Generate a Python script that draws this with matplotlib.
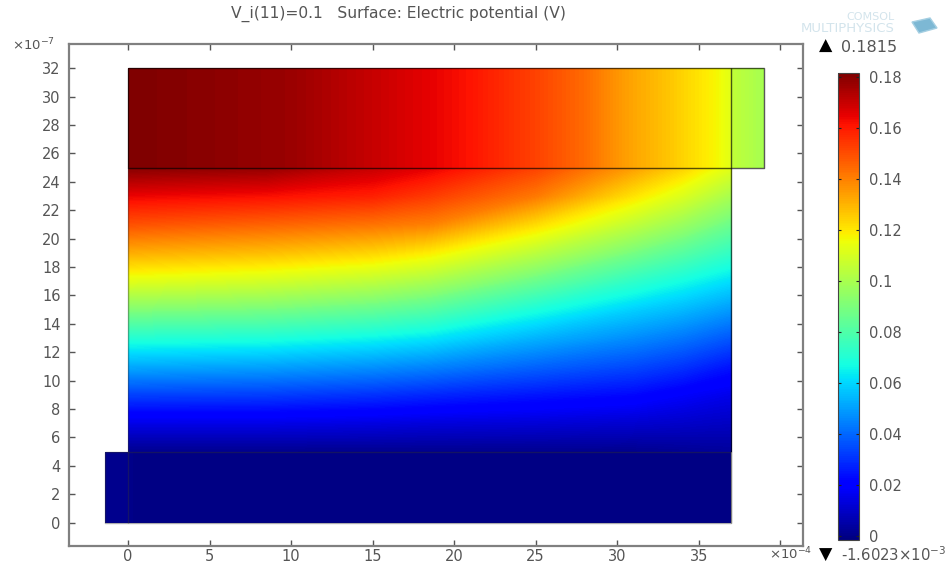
#!/usr/bin/env python3
import numpy as np
import matplotlib
matplotlib.use('Agg')
import matplotlib.pyplot as plt
from matplotlib.cm import ScalarMappable
from matplotlib.colors import Normalize
from matplotlib.patches import Polygon

# Colour range printed next to the colour bar
vMin = -1.6023e-3
vMax = 0.1815

# Top electrode, potential only changes along x
topX = [0, 5, 10, 15, 18.5, 21, 25, 28, 30.5, 33, 36.2, 37]
topY = [25, 32]
topV = [0.1815, 0.1795, 0.177, 0.170, 0.165, 0.161, 0.152, 0.144, 0.134, 0.127, 0.1165, 0.112]

# Small contact on the right of the top electrode
tabX = [37, 39]
tabY = [25, 32]
tabV = [0.105, 0.099]

# Middle layer, one row per y, one column per x
midX = [0, 8.5, 15, 18.5, 25, 31, 34, 37]
midY = [5, 7, 9, 11, 13, 15, 17, 19, 21, 23, 25]
midV = [
    [0.001, 0.001, 0.001, 0.001, 0.001, 0.001, 0.002, 0.003],
    [0.015, 0.015, 0.0140, 0.0131, 0.0124, 0.0113, 0.0103, 0.0092],
    [0.033, 0.0323, 0.0301, 0.0281, 0.0250, 0.0223, 0.0186, 0.0155],
    [0.052, 0.0506, 0.0478, 0.0453, 0.0393, 0.0344, 0.0306, 0.0247],
    [0.0705, 0.0692, 0.0656, 0.0626, 0.0536, 0.0466, 0.0426, 0.0369],
    [0.091, 0.0889, 0.0849, 0.0811, 0.0686, 0.0588, 0.0547, 0.0491],
    [0.112, 0.1086, 0.1041, 0.0997, 0.0861, 0.0730, 0.0672, 0.0613],
    [0.131, 0.1278, 0.1233, 0.1186, 0.1035, 0.0888, 0.0817, 0.0738],
    [0.149, 0.1455, 0.1423, 0.1397, 0.1219, 0.1046, 0.0962, 0.0865],
    [0.164, 0.1618, 0.1586, 0.1534, 0.1412, 0.1204, 0.1107, 0.0992],
    [0.180, 0.178, 0.170, 0.165, 0.152, 0.134, 0.124, 0.112],
]

# Bottom layer, nearly flat
botX = [-1.4, -0.1, 0.3, 37]
botY = [0, 5]
botV = [0.0012, 0.0012, -0.0002, -0.0002]

# Ticks
xTicks = [0, 5, 10, 15, 20, 25, 30, 35, 40]
xLabels = ['0', '5', '10', '15', '20', '25', '30', '35', '']
yTicks = list(range(0, 34, 2))
barTicks = [0, 0.02, 0.04, 0.06, 0.08, 0.1, 0.12, 0.14, 0.16, 0.18]
barLabels = ['0', '0.02', '0.04', '0.06', '0.08', '0.1', '0.12', '0.14', '0.16', '0.18']

# Domain boundaries, the ones round the thin top parts show up darker
hardEdges = [
    ([0, 39, 39, 0, 0], [32, 32, 25, 25, 32]),
    ([37, 37], [5, 32]),
]
softEdges = [
    ([0, 0], [0, 25]),
    ([37, 37], [0, 5]),
    ([-1.4, 37, 37, -1.4, -1.4], [5, 5, 0, 0, 5]),
]

WIDTH, HEIGHT = 947, 568
GREY = '#555555'
FRAME = '#808080'

def pxAxes(left, top, right, bottom):
    return [left/WIDTH, 1-bottom/HEIGHT, (right-left)/WIDTH, (bottom-top)/HEIGHT]

def pxText(x, y, s, **kwargs):
    kwargs.setdefault('color', GREY)
    kwargs.setdefault('fontsize', 10.5)
    kwargs.setdefault('va', 'center')
    fig.text(x/WIDTH, 1-y/HEIGHT, s, **kwargs)

fig = plt.figure(figsize=(WIDTH/100, HEIGHT/100), dpi=100)
ax = fig.add_axes(pxAxes(69, 44, 803, 546))

levels = np.linspace(vMin, vMax, 256)
norm = Normalize(vMin, vMax)

def drawField(x, y, v):
    ax.contourf(x, y, v, levels=levels, cmap='jet', norm=norm, extend='both', antialiased=False)

drawField(midX, midY, np.array(midV))
drawField(topX, topY, np.array([topV, topV]))
drawField(tabX, tabY, np.array([tabV, tabV]))
drawField(botX, botY, np.array([botV, botV]))

for ex, ey in softEdges:
    ax.plot(ex, ey, color='#333333', alpha=0.4, lw=1.0, solid_capstyle='butt')
for ex, ey in hardEdges:
    ax.plot(ex, ey, color='black', alpha=0.65, lw=1.0, solid_capstyle='butt')

ax.set_xlim(-3.62, 41.4)
ax.set_ylim(-1.65, 33.7)
ax.set_xticks(xTicks)
ax.set_xticklabels(xLabels)
ax.set_yticks(yTicks)
ax.tick_params(direction='in', top=True, right=True, length=4.5, width=1, color=GREY,
               labelcolor=GREY, labelsize=10.5)
ax.tick_params(axis='x', pad=2)
ax.tick_params(axis='y', pad=6)
for spine in ax.spines.values():
    spine.set_color(FRAME)
    spine.set_linewidth(1.6)

# Colour bar
cax = fig.add_axes(pxAxes(838, 73, 859, 540))
cb = fig.colorbar(ScalarMappable(norm=norm, cmap='jet'), cax=cax)
cb.set_ticks(barTicks)
cb.set_ticklabels(barLabels)
cax.tick_params(direction='in', left=True, right=True, length=2.5, width=0.8, color='#222222',
                labelcolor=GREY, labelsize=10.5, pad=7)
cb.outline.set_edgecolor('#444444')
cb.outline.set_linewidth(0.8)

# Texts round the axes
pxText(398, 14, 'V_i(11)=0.1   Surface: Electric potential (V)', ha='center', fontsize=11.2)
pxText(12, 45, r'×10$^{-7}$', fontsize=9.5)
pxText(769, 554, r'×10$^{-4}$', fontsize=9.5)
pxText(819, 46, '▲', ha='left', color='black', fontsize=12.5)
pxText(841, 47, '0.1815', ha='left', fontsize=11.5)
pxText(819, 555, '▼', ha='left', color='black', fontsize=12.5)
pxText(841, 555, r'-1.6023×10$^{-3}$', ha='left', fontsize=10.7)

# Faded logo in the corner
pxText(870, 17, 'COMSOL', ha='center', color='#d3e4ec', fontsize=8)
pxText(848, 29, 'MULTIPHYSICS', ha='center', color='#d3e4ec', fontsize=9.5)
cube = [(912, 22), (930, 18), (937, 28), (919, 33)]
fig.add_artist(Polygon([(x/WIDTH, 1-y/HEIGHT) for x, y in cube], closed=True,
                       transform=fig.transFigure, facecolor='#7db8d4', edgecolor='#a5cfe2', lw=1))

fig.savefig('out.png', dpi=100)
